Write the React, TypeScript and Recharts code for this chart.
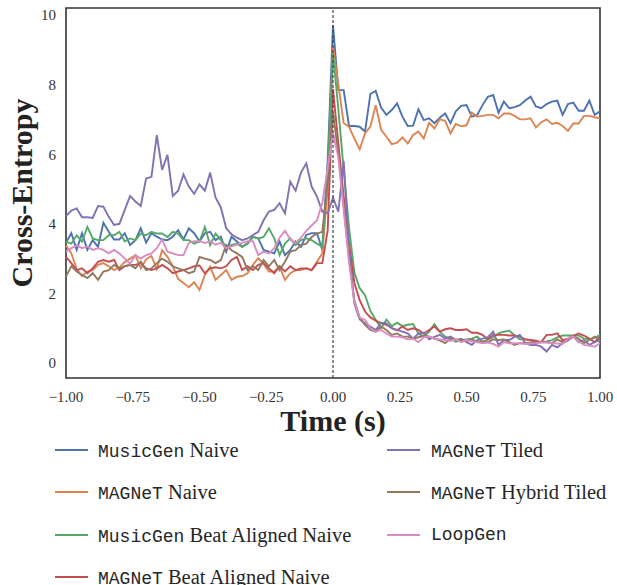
import { LineChart, Line, XAxis, YAxis, ReferenceLine, ReferenceArea } from "recharts";

// Time grid (s)
const time = [
  -1.0, -0.98, -0.96, -0.94, -0.92, -0.9, -0.88, -0.86, -0.84, -0.82,
  -0.8, -0.78, -0.76, -0.74, -0.72, -0.7, -0.68, -0.66, -0.64, -0.62,
  -0.6, -0.58, -0.56, -0.54, -0.52, -0.5, -0.48, -0.46, -0.44, -0.42,
  -0.4, -0.38, -0.36, -0.34, -0.32, -0.3, -0.28, -0.26, -0.24, -0.22,
  -0.2, -0.18, -0.16, -0.14, -0.12, -0.1, -0.08, -0.06, -0.04, -0.02,
  0.0, 0.02, 0.04, 0.06, 0.08, 0.1, 0.12, 0.14, 0.16, 0.18,
  0.2, 0.22, 0.24, 0.26, 0.28, 0.3, 0.32, 0.34, 0.36, 0.38,
  0.4, 0.42, 0.44, 0.46, 0.48, 0.5, 0.52, 0.54, 0.56, 0.58,
  0.6, 0.62, 0.64, 0.66, 0.68, 0.7, 0.72, 0.74, 0.76, 0.78,
  0.8, 0.82, 0.84, 0.86, 0.88, 0.9, 0.92, 0.94, 0.96, 0.98,
  1.0,
];

const musicgenNaive = [
  3.46, 3.73, 3.25, 3.73, 3.25, 3.53, 3.34, 4.03, 3.77, 3.55,
  3.55, 3.73, 3.39, 3.53, 3.87, 3.46, 3.73, 3.63, 3.55, 3.53,
  3.63, 3.82, 3.55, 3.87, 3.73, 3.49, 3.73, 3.77, 3.53, 3.63,
  3.2, 3.63, 3.49, 3.34, 3.44, 3.63, 3.58, 3.25, 3.2, 3.15,
  3.49, 3.1, 3.25, 3.49, 3.34, 3.68, 3.73, 3.73, 3.25, 5.8,
  9.71, 7.84, 7.84, 6.81, 6.81, 6.79, 6.65, 7.73, 7.82, 7.34,
  7.13, 7.27, 7.46, 7.08, 6.81, 6.82, 7.29, 6.98, 7.03, 6.89,
  7.05, 7.17, 6.89, 7.23, 7.39, 7.41, 7.08, 7.13, 7.41, 7.65,
  7.7, 7.19, 7.51, 7.32, 7.35, 7.41, 7.54, 7.65, 7.37, 7.32,
  7.44, 7.51, 7.54, 7.13, 7.44, 7.48, 7.25, 7.25, 7.54, 7.13,
  7.23,
];

const magnetNaive = [
  3.38, 3.15, 2.7, 2.5, 2.63, 2.67, 2.82, 2.87, 2.78, 2.67,
  2.75, 2.9, 3.0, 3.1, 2.72, 2.98, 3.08, 2.7, 3.24, 3.05,
  2.78, 2.42, 2.3, 2.18, 2.32, 2.1, 2.53, 2.77, 2.39, 2.53,
  2.67, 2.39, 2.48, 2.5, 2.58, 2.82, 3.01, 2.85, 2.63, 2.63,
  2.77, 2.39, 2.58, 2.67, 2.67, 2.72, 2.67, 2.91, 3.15, 5.0,
  9.1, 8.0, 6.89, 6.79, 6.45, 6.14, 6.6, 6.79, 7.41, 6.71,
  6.5, 6.29, 6.33, 6.48, 6.31, 6.55, 6.65, 6.45, 6.9, 6.74,
  7.0, 6.96, 6.6, 6.87, 6.8, 6.83, 7.19, 7.08, 7.1, 7.13,
  7.13, 7.03, 7.17, 7.17, 7.1, 7.0, 7.0, 7.03, 6.77, 6.92,
  7.0, 6.87, 6.9, 6.81, 6.67, 6.88, 6.88, 7.1, 7.1, 7.06,
  7.03,
];

const musicgenBeat = [
  3.49, 3.43, 3.67, 3.49, 3.91, 3.58, 3.53, 3.53, 3.67, 3.67,
  3.77, 3.49, 3.58, 3.53, 3.72, 3.67, 3.77, 3.72, 3.72, 3.62,
  3.77, 3.72, 3.53, 3.53, 3.43, 3.49, 3.91, 3.39, 3.72, 3.53,
  3.34, 3.39, 3.43, 3.34, 3.43, 3.62, 3.58, 3.62, 3.87, 3.58,
  3.1, 3.43, 3.58, 3.39, 3.53, 3.58, 3.53, 3.43, 3.34, 5.5,
  8.9, 7.3, 5.55, 3.9, 2.6, 2.15, 1.95, 1.5, 1.24, 1.0,
  1.25, 1.06, 1.16, 1.06, 1.1, 1.12, 0.85, 0.76, 0.9, 1.12,
  0.9, 0.76, 0.7, 0.61, 0.66, 0.68, 0.7, 0.76, 0.6, 0.68,
  0.74, 0.85, 0.9, 0.93, 0.8, 0.68, 0.68, 0.66, 0.6, 0.6,
  0.62, 0.66, 0.74, 0.79, 0.79, 0.79, 0.79, 0.7, 0.68, 0.72,
  0.81,
];

const magnetBeat = [
  3.05, 2.87, 2.67, 2.72, 2.58, 2.72, 2.91, 2.96, 2.91, 2.96,
  2.67, 2.78, 2.82, 2.82, 2.87, 2.72, 2.67, 2.72, 2.82, 2.72,
  2.58, 2.63, 2.67, 2.72, 2.78, 2.8, 2.58, 2.72, 2.75, 2.72,
  2.78, 2.96, 3.05, 2.67, 2.78, 2.67, 2.82, 2.87, 2.72, 2.58,
  2.78, 2.63, 2.78, 2.67, 2.72, 2.72, 2.67, 2.87, 2.87, 3.8,
  7.87, 6.31, 4.78, 3.44, 2.3, 1.81, 1.48, 1.31, 1.22, 1.15,
  1.1, 1.0, 0.94, 1.05, 0.95, 1.0, 0.95, 0.85, 0.95, 1.05,
  0.9, 0.97, 1.0, 0.95, 0.95, 0.97, 0.87, 0.87, 0.81, 0.68,
  0.81, 0.81, 0.81, 0.79, 0.79, 0.76, 0.68, 0.66, 0.64, 0.6,
  0.81, 0.81, 0.85, 0.66, 0.7, 0.78, 0.85, 0.79, 0.7, 0.6,
  0.76,
];

const magnetTiled = [
  4.22, 4.38, 4.44, 4.19, 4.19, 4.17, 4.51, 4.49, 4.2, 3.97,
  4.0, 4.4, 4.8, 4.64, 4.51, 5.3, 5.35, 6.55, 5.55, 5.98,
  4.8, 4.95, 5.42, 5.07, 4.86, 5.13, 4.95, 5.47, 4.76, 4.47,
  3.87, 3.7, 3.6, 3.53, 3.58, 3.68, 3.77, 4.1, 4.35, 4.4,
  4.59, 4.3, 5.21, 4.95, 5.47, 5.74, 5.07, 4.78, 4.35, 4.3,
  4.75, 4.35, 5.8, 3.3, 1.7, 1.25, 1.14, 1.05, 0.95, 1.16,
  1.14, 1.0, 0.95, 0.9, 0.85, 0.7, 0.85, 0.87, 0.68, 0.75,
  0.81, 0.7, 0.76, 0.66, 0.7, 0.6, 0.52, 0.66, 0.7, 0.74,
  0.9, 0.52, 0.66, 0.66, 0.75, 0.81, 0.57, 0.52, 0.52, 0.47,
  0.33, 0.52, 0.45, 0.57, 0.65, 0.76, 0.6, 0.66, 0.52, 0.6,
  0.66,
];

const magnetHybrid = [
  2.49, 2.78, 2.63, 2.53, 2.44, 2.58, 2.39, 2.63, 2.67, 2.82,
  2.72, 2.78, 2.82, 2.72, 2.91, 2.67, 2.72, 2.87, 3.0, 2.91,
  2.78, 2.72, 2.67, 2.58, 2.63, 3.05, 3.0, 2.96, 2.87, 2.96,
  3.39, 3.24, 3.15, 3.05, 2.67, 2.78, 2.67, 2.96, 2.78, 2.96,
  2.67, 2.91, 3.2, 3.24, 3.39, 3.43, 3.62, 3.72, 3.77, 5.2,
  7.2, 6.0, 4.5, 3.0, 1.8, 1.3, 1.1, 0.95, 0.9, 1.05,
  0.95, 0.81, 0.85, 0.76, 0.76, 0.7, 0.74, 0.79, 0.76, 0.7,
  0.65, 0.57, 0.7, 0.68, 0.66, 0.64, 0.68, 0.6, 0.62, 0.6,
  0.68, 0.66, 0.68, 0.6, 0.52, 0.57, 0.57, 0.59, 0.59, 0.6,
  0.6, 0.57, 0.68, 0.6, 0.68, 0.76, 0.7, 0.57, 0.66, 0.76,
  0.66,
];

const loopgen = [
  3.2, 3.3, 3.38, 3.3, 3.35, 3.25, 3.3, 3.25, 3.15, 3.25,
  3.15, 3.0, 2.85, 3.1, 3.0, 3.1, 3.15, 3.3, 3.55, 3.2,
  3.15, 3.1, 3.1, 3.45, 3.5, 3.5, 3.45, 3.5, 3.4, 3.45,
  3.3, 3.35, 3.4, 3.45, 3.5, 3.5, 3.1, 3.2, 3.15, 3.3,
  3.6, 3.8, 3.55, 3.45, 3.6, 3.8, 3.95, 4.1, 4.6, 5.6,
  6.6, 5.9, 4.4, 2.9, 1.75, 1.3, 1.24, 1.0, 0.9, 0.95,
  0.85, 0.76, 0.76, 0.74, 0.68, 0.7, 0.6, 0.74, 0.76, 0.7,
  0.68, 0.66, 0.64, 0.68, 0.6, 0.66, 0.62, 0.6, 0.57, 0.59,
  0.55, 0.47, 0.6, 0.57, 0.57, 0.57, 0.55, 0.56, 0.57, 0.59,
  0.59, 0.57, 0.56, 0.55, 0.7, 0.76, 0.62, 0.52, 0.5, 0.47,
  0.57,
];

const xTicks = [-1, -0.75, -0.5, -0.25, 0, 0.25, 0.5, 0.75, 1];
const yTicks = [0, 2, 4, 6, 8, 10];

const series = [
  { key: "musicgenNaive", mono: "MusicGen", rest: "Naive", color: "#4C72B0", values: musicgenNaive },
  { key: "magnetNaive", mono: "MAGNeT", rest: "Naive", color: "#DD8452", values: magnetNaive },
  { key: "musicgenBeat", mono: "MusicGen", rest: "Beat Aligned Naive", color: "#55A868", values: musicgenBeat },
  { key: "magnetBeat", mono: "MAGNeT", rest: "Beat Aligned Naive", color: "#C44E52", values: magnetBeat },
  { key: "magnetTiled", mono: "MAGNeT", rest: "Tiled", color: "#8172B3", values: magnetTiled },
  { key: "magnetHybrid", mono: "MAGNeT", rest: "Hybrid Tiled", color: "#937860", values: magnetHybrid },
  { key: "loopgen", mono: "LoopGen", rest: "", color: "#DA8BC3", values: loopgen },
];

const data = time.map((t, i) => {
  const row: Record<string, number> = { t };
  series.forEach((s) => {
    row[s.key] = s.values[i];
  });
  return row;
});

const serif = "'Liberation Serif', 'DejaVu Serif', serif";
const mono = "'Liberation Mono', 'DejaVu Sans Mono', monospace";

const fmtTick = (v: number) => (v < 0 ? "\u2212" : "") + Math.abs(v).toFixed(2);

function App() {
  // legend layout: 4 rows in first column, 3 in second
  const rowY = [450, 492, 535, 577];
  const cols = [
    { lineX: 55, textX: 98 },
    { lineX: 387, textX: 431 },
  ];

  return (
    <div
      style={{
        position: "absolute",
        left: 0,
        top: 0,
        width: 617,
        height: 585,
        background: "#fff",
        overflow: "hidden",
      }}
    >
      <LineChart
        width={617}
        height={440}
        data={data}
        margin={{ top: 8, right: 17, left: 0, bottom: 0 }}
      >
        <XAxis
          dataKey="t"
          type="number"
          domain={[-1, 1]}
          ticks={xTicks}
          tickFormatter={fmtTick}
          tickLine={false}
          axisLine={false}
          tickMargin={7}
          height={62}
          tick={{ fontFamily: serif, fontSize: 15, fill: "#333" }}
          label={{
            value: "Time (s)",
            position: "insideBottom",
            offset: 9,
            style: { fontFamily: serif, fontSize: 30, fontWeight: "bold", fill: "#222" },
          }}
        />
        <YAxis
          type="number"
          domain={[-0.43, 10.2]}
          ticks={yTicks}
          allowDataOverflow
          tickLine={false}
          axisLine={false}
          tickMargin={4}
          width={66}
          tick={{ fontFamily: serif, fontSize: 15, fill: "#333" }}
        />
        {series.map((s) => (
          <Line
            key={s.key}
            type="linear"
            dataKey={s.key}
            stroke={s.color}
            strokeWidth={1.9}
            dot={false}
            isAnimationActive={false}
          />
        ))}
        <ReferenceLine x={0} stroke="#444" strokeWidth={1.2} strokeDasharray="3 2" />
        <ReferenceArea
          x1={-1}
          x2={1}
          y1={-0.43}
          y2={10.2}
          fill="none"
          stroke="#333"
          strokeWidth={1.6}
          ifOverflow="extendDomain"
        />
      </LineChart>

      <svg
        width={60}
        height={400}
        style={{ position: "absolute", left: 0, top: 0 }}
      >
        <text
          transform="translate(32,193) rotate(-90)"
          textAnchor="middle"
          fontFamily={serif}
          fontSize={30}
          fontWeight="bold"
          fill="#222"
        >
          Cross-Entropy
        </text>
      </svg>

      {series.map((s, i) => {
        const col = i < 4 ? cols[0] : cols[1];
        const y = rowY[i < 4 ? i : i - 4];
        return (
          <div key={s.key}>
            <div
              style={{
                position: "absolute",
                left: col.lineX,
                top: y - 1,
                width: 33,
                height: 2,
                background: s.color,
              }}
            />
            <div
              style={{
                position: "absolute",
                left: col.textX,
                top: y - 12,
                height: 24,
                lineHeight: "24px",
                whiteSpace: "nowrap",
                color: "#262626",
              }}
            >
              <span style={{ fontFamily: mono, fontSize: 18 }}>{s.mono}</span>
              {s.rest && (
                <span style={{ fontFamily: serif, fontSize: 20.5 }}>{" " + s.rest}</span>
              )}
            </div>
          </div>
        );
      })}
    </div>
  );
}

export default App;
